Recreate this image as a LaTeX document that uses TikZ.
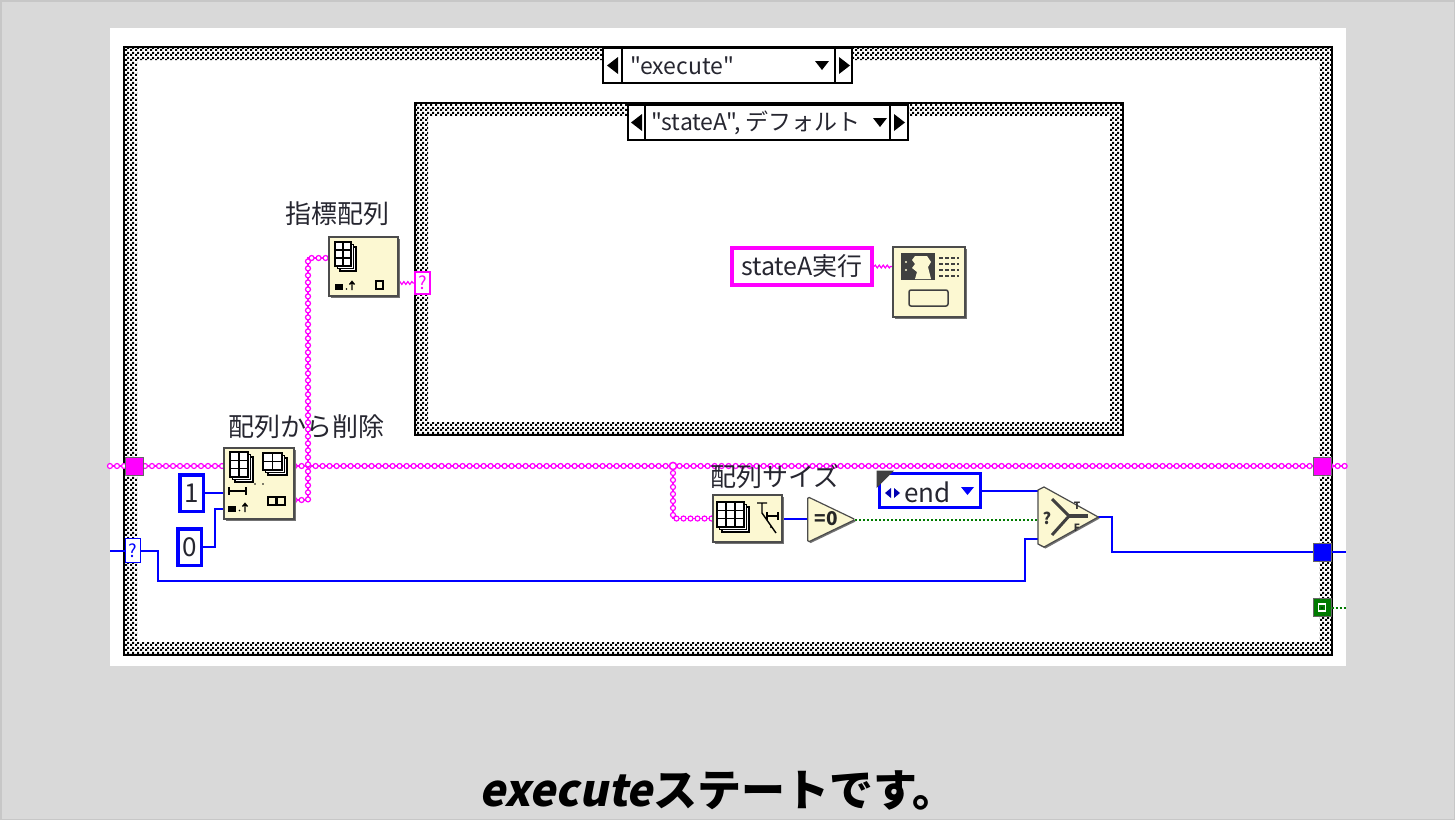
\documentclass[tikz,border=0pt]{standalone}
\usepackage{fontspec}
\newfontfamily\jp{Noto Sans CJK JP}
\newfontfamily\jpsl{Noto Sans CJK JP}[FakeSlant=0.2,BoldFeatures={FakeSlant=0.2}]
\usetikzlibrary{patterns,decorations.markings,decorations.pathmorphing,calc,shadows}
\pgfdeclarelayer{back}\pgfdeclarelayer{wires}\pgfsetlayers{back,wires,main}
\pgfdeclarepatternformonly{lvcheck}{\pgfqpoint{0pt}{0pt}}{\pgfqpoint{5pt}{5pt}}{\pgfqpoint{5pt}{5pt}}{%
  \pgfpathrectangle{\pgfqpoint{0pt}{0pt}}{\pgfqpoint{2.5pt}{2.5pt}}%
  \pgfpathrectangle{\pgfqpoint{2.5pt}{2.5pt}}{\pgfqpoint{2.5pt}{2.5pt}}%
  \pgfusepath{fill}}
\definecolor{bgc}{HTML}{D9D9D9}
\definecolor{mag}{HTML}{FF00FF}
\definecolor{lvblue}{HTML}{0000FF}
\definecolor{lvgreen}{HTML}{007A00}
\definecolor{nodefill}{HTML}{FCF8D2}
\definecolor{txt}{HTML}{262630}
\newcommand\lvframe[4]{%
  \fill[pattern=lvcheck,even odd rule] (#1,#2) rectangle (#3,#4) ({#1+13},{#2+13}) rectangle ({#3-13},{#4-13});
  \draw[line width=2.2] (#1,#2) rectangle (#3,#4);}
\newcommand\lvgrid[6]{%
  \foreach \k in {2,1,0}{\filldraw[fill=white,draw=black,line width=1.2] ({#1+\k*2.5},{#2+\k*2.5}) rectangle ++(#3,#4);}
  \foreach \i in {1,...,#5}{\draw[line width=1.2] ({#1+\i*#3/(#5+1)},#2) -- ++(0,#4);}
  \foreach \j in {1,...,#6}{\draw[line width=1.2] (#1,{#2+\j*#4/(#6+1)}) -- ++(#3,0);}}
\newcommand\lbfont{\jp\fontsize{26}{30}\selectfont}
\newcommand\selfont{\jp\fontsize{23}{27}\selectfont}
\begin{document}
\begin{tikzpicture}[x=1pt,y=-1pt,
  lv/.style={draw=black!70,line width=1.2,fill=nodefill,inner sep=0,
    general shadow={fill=black!55,shadow xshift=1.5pt,shadow yshift=-1.5pt}},
  lbl/.style={font=\lbfont,text=txt,inner sep=0},
  sellbl/.style={font=\selfont,text=txt,inner sep=0},
  selbox/.style={draw=black,line width=1.5,fill=white,inner sep=0},
  tun/.style={draw=black!60,line width=1,inner sep=0,minimum width=18,minimum height=18},
  const/.style={draw=lvblue,line width=3.5,fill=white,inner sep=0,minimum width=23.5,minimum height=36.5,font=\lbfont,text=txt},
  qtun/.style={line width=1.5,fill=white,inner sep=0,minimum width=15,minimum height=24,font=\jp\fontsize{18}{20}\selectfont},
  pk/.style={draw=mag,line width=1.3,postaction={decorate,decoration={markings,
     mark=between positions 0 and 1 step 7pt with {\draw[mag,fill=white,line width=1.2] (0,0) circle (2.5);}}}},
  pw/.style={draw=mag,line width=1.2,decorate,decoration={snake,segment length=4pt,amplitude=1.4pt}},
  bw/.style={draw=lvblue,line width=2},
  gw/.style={draw=lvgreen,line width=2,dash pattern=on 2pt off 2pt}]
\useasboundingbox (0,0) rectangle (1455,820);
\begin{pgfonlayer}{back}
\fill[bgc] (0,0) rectangle (1455,820);
\draw[black!22,line width=1.5] (0.75,0.75) rectangle (1454.25,819.25);
\fill[white] (110,28) rectangle (1346,666);
\lvframe{124}{47}{1332}{655}
\lvframe{415}{103}{1123}{435}
\end{pgfonlayer}

% ---- selectors
\node[selbox,minimum width=19,minimum height=35] (s1L) at (612.5,65.5) {};
\node[selbox,minimum width=213,minimum height=35] (s1) at (728.5,65.5) {};
\node[selbox,minimum width=17,minimum height=35] (s1R) at (843.5,65.5) {};
\fill (618,57) -- (618,74) -- (607,65.5) -- cycle;
\fill (839,57) -- (839,74) -- (850,65.5) -- cycle;
\fill (815,61) -- (829,61) -- (822,70) -- cycle;
\node[sellbl,anchor=west] (t1) at (630,66) {"execute"};

\node[selbox,minimum width=17,minimum height=35] (s2L) at (636.5,122.5) {};
\node[selbox,minimum width=245,minimum height=35] (s2) at (767.5,122.5) {};
\node[selbox,minimum width=18,minimum height=35] (s2R) at (899,122.5) {};
\fill (642,114) -- (642,131) -- (631,122.5) -- cycle;
\fill (894,114) -- (894,131) -- (905,122.5) -- cycle;
\fill (873,118) -- (887,118) -- (880,127) -- cycle;
\node[sellbl,anchor=west] (t2) at (651,123) {"stateA", デフォルト};

% ---- tunnels
\node[tun,fill=mag] (tunL) at (134,466) {};
\node[tun,fill=mag] (tunR) at (1322,466) {};
\node[tun,fill=lvblue] (tunB) at (1322,552) {};
\node[tun,fill=lvgreen] (tunG) at (1322,607.5) {};
\draw[white,line width=1.2] (1318.5,604) rectangle (1325.5,611);
\fill[lvgreen!60!black] (1321,606.5) rectangle (1323,608.5);
\node[qtun,draw=lvblue,text=lvblue] (qL) at (133,550.5) {?};
\node[qtun,draw=mag,text=mag,minimum height=22] (qI) at (422.5,283) {?};

% ---- constants
\node[const] (c1) at (191.5,493) {1};
\node[const] (c0) at (189.5,547) {0};
\node[draw=mag,line width=4,fill=white,inner sep=0,minimum width=140,minimum height=37,font=\jp\fontsize{25}{28}\selectfont,text=txt] (strA) at (802,266.5) {stateA実行};
\node[draw=lvblue,line width=3,fill=white,inner sep=0,minimum width=101,minimum height=34] (endc) at (930,490.5) {};
\fill[black!75] (876.5,470.5) -- (894,470.5) -- (876.5,488) -- cycle;
\fill[lvblue!70!black] (885,493) -- (891,488) -- (891,498) -- cycle;
\fill[lvblue!70!black] (894,488) -- (900,493) -- (894,498) -- cycle;
\fill[lvblue] (961,487) -- (974,487) -- (967.5,495) -- cycle;
\node[lbl,anchor=west] (tend) at (904,492) {end};

% ---- function nodes
\node[lv,minimum width=70,minimum height=71] (del) at (259,483.5) {};
\node[lv,minimum width=69,minimum height=59] (idx) at (363.5,266.5) {};
\node[lv,minimum width=69,minimum height=47] (asz) at (747.5,518.5) {};
\node[lv,minimum width=72,minimum height=70] (dlg) at (929,282) {};
\node[inner sep=0,minimum width=47,minimum height=45] (eq) at (831.5,519.5) {};
\filldraw[fill=nodefill,draw=black!70,line width=1.2,rounded corners=1.5,
  general shadow={fill=black!55,shadow xshift=1.5pt,shadow yshift=-1.5pt}]
  (eq.north west) -- (eq.east) -- (eq.south west) -- cycle;
\node[inner sep=0,font=\jp\bfseries\fontsize{19}{21}\selectfont,text=black!85] (eqt) at (826,519) {=0};
\node[inner sep=0,minimum width=60,minimum height=60] (sel) at (1068,517) {};
\filldraw[fill=nodefill,draw=black!70,line width=1.2,
  general shadow={fill=black!55,shadow xshift=1.5pt,shadow yshift=-1.5pt}]
  ($(sel.center)+(-30,-27)$) -- ($(sel.center)+(-24,-30)$) -- (sel.east) -- ($(sel.center)+(-24,30)$) -- ($(sel.center)+(-30,27)$) -- cycle;
\draw[black!75,line width=3] (1052,499) -- (1069,516) -- (1052,535);
\draw[black!75,line width=3.5] (1069,516) -- (1088,516);
\node[inner sep=0,font=\jp\bfseries\fontsize{16}{18}\selectfont,text=black!80] (selq) at (1047,518) {?};
\node[inner sep=0,font=\jp\bfseries\fontsize{10}{11}\selectfont,text=black!80] (selT) at (1077,506) {T};
\node[inner sep=0,font=\jp\bfseries\fontsize{10}{11}\selectfont,text=black!80] (selF) at (1077,528) {F};

% icons: delete from array
\lvgrid{230}{452}{18}{25}{1}{2}
\lvgrid{263}{453}{19}{17}{1}{1}
\draw[line width=1.3] (229,487) -- (229,495) (246,487) -- (246,495) (229,491) -- (246,491);
\fill (228,506) rectangle (236,512);
\fill (239.5,510.5) circle (0.9);
\draw[line width=1.4] (245,512) -- (245,504) (242.5,506.5) -- (245,503.5) -- (247.5,506.5);
\draw[line width=1.5] (268,497) rectangle (276,505) (277,497) rectangle (285,505);
\fill (255,484) circle (0.9) (263,484) circle (0.9);
% icons: index array
\lvgrid{335}{242}{16}{24}{1}{2}
\fill (335,284) rectangle (343,290);
\fill (346.5,289) circle (0.9);
\draw[line width=1.4] (352,290) -- (352,282) (349.5,284.5) -- (352,281.5) -- (354.5,284.5);
\draw[line width=1.5] (376,281) rectangle (383,289);
% icons: array size
\lvgrid{717}{502}{27}{25}{2}{2}
\draw[line width=1.4] (757,503) -- (767,503) (762,503) -- (762,513) -- (776,533);
\draw[line width=1.3] (767,512) -- (767,520) (778,512) -- (778,520) (767,516) -- (778,516);
\fill (771,527) circle (1.1);
% icons: dialog
\fill[black!75] (901,253) rectangle (935,280);
\fill[nodefill] (915,256) -- (927,256) -- (931,262) -- (928,267) -- (931,279) -- (915,279) -- (917,272) -- (912,268) -- (915,264) -- (912,260) -- cycle;
\fill[nodefill] (906,262) circle (1.2) (906,270) circle (1.2);
\foreach \yy in {258,264,270,276}{\draw[black!75,line width=1.6,dash pattern=on 4pt off 2pt] (939,\yy) -- (959,\yy);}
\draw[black!75,line width=1.5,rounded corners=2] (909,290) rectangle (948,306);

% labels
\node[lbl] (l1) at (337,214) {指標配列};
\node[lbl] (l2) at (306,427) {配列から削除};
\node[lbl] (l3) at (775,477) {配列サイズ};

% caption
\node[inner sep=0,font=\jp\bfseries\fontsize{44}{48}\selectfont,text=black] (cap) at (718,790) {{\jpsl execute}ステートです。};

% ---- wires
\begin{pgfonlayer}{wires}
\coordinate (pinL) at (110,466);
\coordinate (pinR) at (1346,466);
\coordinate (br) at (673,466);
\coordinate (v1) at (308,258);
\coordinate (k0) at (215,509);
\coordinate (bInL) at (110,550.5);
\coordinate (k1) at (158,581);
\coordinate (k2) at (1025,539);
\coordinate (k3) at (1112,552);
\coordinate (bOutR) at (1346,552);
\coordinate (gOutR) at (1346,607.5);
\draw[pk] (pinL) -- (tunL.center) -- (tunL.center -| del.west);
\draw[pk] (tunL.center -| del.east) -- (tunR.center) -- (pinR);
\draw[pk] ($(del.east)+(0,16.5)$) -| (v1) -- (v1 -| idx.west);
\draw[pk] (br) |- (asz.west);
\filldraw[fill=white,draw=mag,line width=1.5] (br) circle (3.6);
\draw[bw] (c1) -- (c1 -| del.west);
\draw[bw] (c0.east) -| (k0) -- (k0 -| del.west);
\draw[bw] (bInL) -- (qL.west);
\draw[bw] (qL.east) -| (k1) -| (k2) -- (k2 -| sel.west);
\draw[pw] (idx.east |- qI.west) -- (qI.west);
\draw[pw] (strA.east) -- (strA.east -| dlg.west);
\draw[bw] (asz.east) -- (asz.east -| eq.west);
\draw[gw] (eq.east) -- (eq.east -| sel.west);
\draw[bw] (endc.east) -- (endc.east -| sel.west);
\draw[bw] (sel.east) -| (k3) -- (tunB.center);
\draw[bw] (tunB.center) -- (bOutR);
\draw[gw] (tunG.east) -- (gOutR);
\end{pgfonlayer}
\end{tikzpicture}
\end{document}
